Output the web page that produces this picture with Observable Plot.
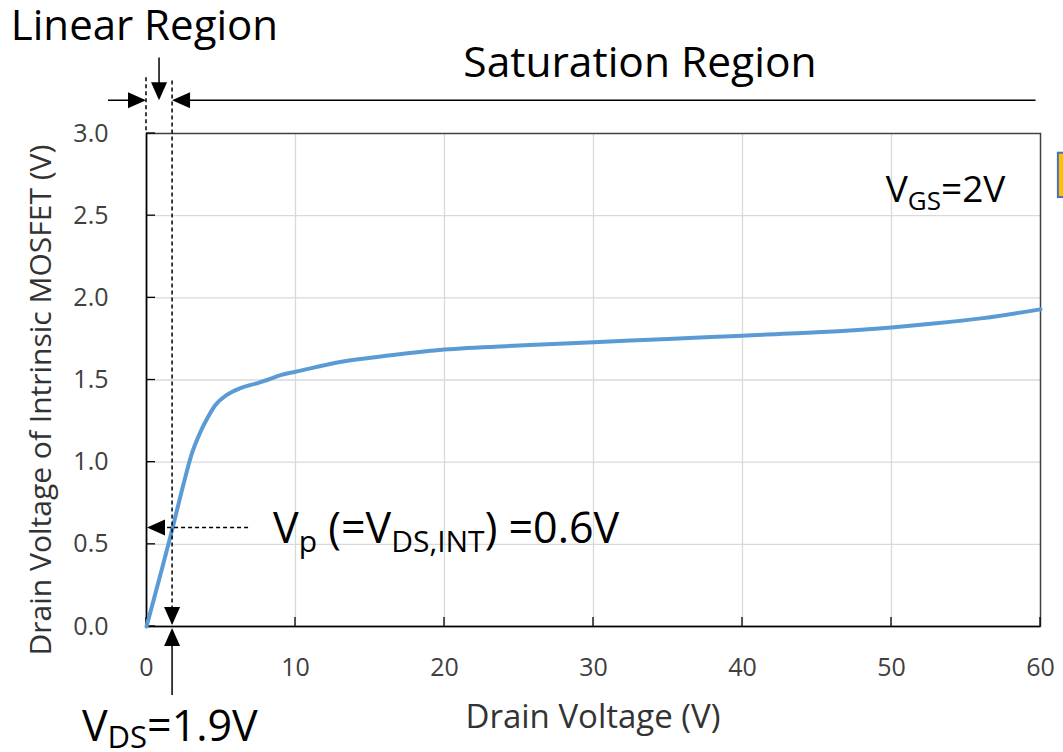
<!DOCTYPE html>
<html><head><meta charset="utf-8">
<script src="https://cdn.jsdelivr.net/npm/d3@7"></script>
<script src="https://cdn.jsdelivr.net/npm/@observablehq/plot@0.6"></script>
<style>
body{margin:0;background:#fff;}
svg{font-family:"Open Sans",sans-serif;}
svg text{white-space:pre;}
</style>
</head><body><div id="chart"></div>
<script>
// ---- data ----
const drainVoltage     = [0, 1.75, 2.55, 3.0, 3.6, 4.1, 4.6, 5.4, 6.3, 7.4, 8.1, 9.0, 10, 13, 16.4, 20, 25, 30, 35, 40, 45, 50, 53, 56, 60];
const intrinsicVoltage = [0, 0.60, 0.89, 1.04, 1.18, 1.27, 1.345, 1.41, 1.45, 1.48, 1.50, 1.53, 1.55, 1.61, 1.65, 1.685, 1.71, 1.73, 1.75, 1.77, 1.79, 1.82, 1.845, 1.875, 1.93];
const xTicks = [0, 10, 20, 30, 40, 50, 60];
const yTicks = [0, 0.5, 1.0, 1.5, 2.0, 2.5, 3.0];
const xGrid = [10, 20, 30, 40, 50];
const yGrid = [0.5, 1.0, 1.5, 2.0, 2.5];
const vdsMarker = 1.75;   // position of the V_DS marker on the x axis
const vpMarker = 0.6;     // V_p level on the y axis
const xLabel = "Drain Voltage (V)";
const yLabel = "Drain Voltage of Intrinsic MOSFET (V)";
const linearLabel = "Linear Region";
const saturationLabel = "Saturation Region";
const vgsLabel = [["V",0],["GS",1],["=2V",0]];
const vpLabel  = [["V",0],["p",1],[" (=V",0],["DS,INT",1],[") =0.6V",0]];
const vdsLabel = [["V",0],["DS",1],["=1.9V",0]];

const curve = drainVoltage.map((d, i) => ({x: d, y: intrinsicVoltage[i]}));

function richText(g, parts, px, py, size, subSize, shift, anchor = "start") {
  const t = g.append("text").attr("x", px).attr("y", py)
    .attr("font-size", size).attr("fill", "#000").attr("text-anchor", anchor);
  let cur = 0;
  for (const [s, sub] of parts) {
    const ts = t.append("tspan").text(s);
    const target = sub ? shift : 0;
    if (target !== cur) ts.attr("dy", target - cur);
    cur = target;
    if (sub) ts.attr("font-size", subSize);
  }
  return t;
}
function seg(g, x1, y1, x2, y2, dash, w = 1.5) {
  const l = g.append("line").attr("x1", x1).attr("y1", y1).attr("x2", x2).attr("y2", y2)
    .attr("stroke", "#000").attr("stroke-width", w);
  if (dash) l.attr("stroke-dasharray", dash);
}
// arrowhead with tip at (px,py); dir: "right","left","up","down"
function head(g, px, py, dir, L = 18, H = 8) {
  let pts;
  if (dir === "right") pts = [[px,py],[px-L,py-H],[px-L,py+H]];
  if (dir === "left")  pts = [[px,py],[px+L,py-H],[px+L,py+H]];
  if (dir === "down")  pts = [[px,py],[px-H,py-L],[px+H,py-L]];
  if (dir === "up")    pts = [[px,py],[px-H,py+L],[px+H,py+L]];
  g.append("path").attr("d", "M" + pts.map(p => p.join(",")).join("L") + "Z").attr("fill", "#000");
}

function ticksMark(index, {x, y}) {
  const g = d3.create("svg:g").attr("stroke", "#000").attr("stroke-width", 1.3);
  for (const t of yTicks) g.append("line").attr("x1", x(0)).attr("x2", x(0) + 9).attr("y1", y(t)).attr("y2", y(t));
  for (const t of xTicks) g.append("line").attr("x1", x(t)).attr("x2", x(t)).attr("y1", y(0)).attr("y2", y(0) - 9);
  return g.node();
}

function annotations(index, {x, y}) {
  const g = d3.create("svg:g").attr("text-anchor", "start");
  const dash = "4,3";
  const topY = y(3.2);
  // top region arrows
  seg(g, x(-2.55), topY, x(0) - 2, topY);
  head(g, x(0), topY, "right");
  seg(g, x(vdsMarker) + 2, topY, x(59.7), topY);
  head(g, x(vdsMarker), topY, "left");
  seg(g, x(vdsMarker / 2), y(3.46), x(vdsMarker / 2), topY - 4);
  head(g, x(vdsMarker / 2), topY, "down");
  // dashed boundaries
  seg(g, x(0), y(3.34), x(0), y(3.0), dash);
  seg(g, x(vdsMarker), y(3.32), x(vdsMarker), y(0), dash);
  // bottom V_DS marker
  head(g, x(vdsMarker), y(0) - 1, "down");
  head(g, x(vdsMarker), y(0) + 2, "up");
  seg(g, x(vdsMarker), y(0) + 18, x(vdsMarker), y(-0.42));
  // V_p dashed arrow
  seg(g, x(6.85), y(vpMarker), x(0) + 16, y(vpMarker), dash);
  head(g, x(0) + 1, y(vpMarker), "left");
  // texts
  g.append("text").attr("x", x(-9.07)).attr("y", y(3.566)).attr("font-size", 42).attr("fill", "#000")
    .attr("text-anchor", "start").text(linearLabel);
  g.append("text").attr("x", x(21.3)).attr("y", y(3.341)).attr("font-size", 42.5).attr("fill", "#000")
    .attr("text-anchor", "start").text(saturationLabel);
  richText(g, vgsLabel, x(49.65), y(2.58), 37, 26, 8);
  richText(g, vpLabel, x(8.53), y(0.505), 43, 30, 9);
  richText(g, vdsLabel, x(-4.3), y(-0.70), 43, 31, 7);
  // axis labels
  g.append("text").attr("x", x(30)).attr("y", y(-0.62)).attr("font-size", 33).attr("fill", "#333")
    .attr("text-anchor", "middle").text(xLabel);
  g.append("text").attr("transform", `translate(${x(-6.38)},${y(1.375)}) rotate(-90)`)
    .attr("font-size", 30).attr("fill", "#333").attr("text-anchor", "middle").text(yLabel);
  return g.node();
}

const chart = Plot.plot({
  width: 1063,
  height: 752,
  marginLeft: 146,
  marginRight: 23,
  marginTop: 133,
  marginBottom: 126,
  style: {fontFamily: "'Open Sans', sans-serif", background: "#fff"},
  x: {domain: [0, 60]},
  y: {domain: [0, 3]},
  marks: [
    Plot.gridX(xGrid, {stroke: "#d9d9d9", strokeOpacity: 1, strokeWidth: 1.3}),
    Plot.gridY(yGrid, {stroke: "#d9d9d9", strokeOpacity: 1, strokeWidth: 1.3}),
    Plot.frame({stroke: "#404040", strokeWidth: 1.5}),
    Plot.ruleX([0], {stroke: "#000", strokeWidth: 1.5}),
    Plot.ruleY([0], {stroke: "#000", strokeWidth: 1.5}),
    Plot.axisX(xTicks, {tickSize: 0, tickPadding: 32, fontSize: 25, fill: "#404040", label: null}),
    Plot.axisY(yTicks, {tickSize: 0, tickPadding: 38, fontSize: 25, fill: "#404040", label: null, tickFormat: d => d.toFixed(1)}),
    ticksMark,
    Plot.line(curve, {x: "x", y: "y", stroke: "#5b9bd5", strokeWidth: 4, curve: "monotone-x"}),
    Plot.rect([0], {x1: 61.2, x2: 62.2, y1: 2.61, y2: 2.88, fill: "#ffc000", stroke: "#4472c4", strokeWidth: 2}),
    annotations
  ]
});
document.getElementById("chart").appendChild(chart);
</script>
</body></html>
